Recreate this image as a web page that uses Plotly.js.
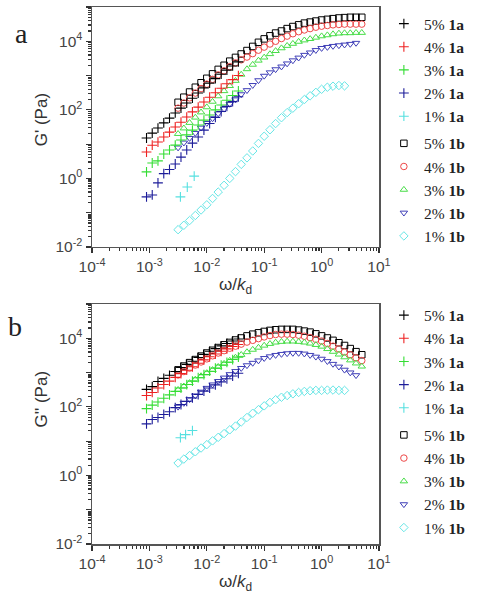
<!DOCTYPE html>
<html>
<head>
<meta charset="utf-8">
<script src="https://cdn.plot.ly/plotly-3.0.1.min.js"></script>
<style>html,body{margin:0;padding:0;background:#fff;}#chart{width:477px;height:600px;}</style>
</head>
<body>
<div id="chart"></div>
<script>
// ---- data ----
const seriesNames = ['5%', '4%', '3%', '2%', '1%'];
const xA = [0.000891, 0.00112, 0.00141, 0.00178, 0.00224, 0.00282, 0.00355, 0.00447, 0.00562, 0.00708, 0.00891, 0.0112, 0.0141, 0.0178, 0.0224, 0.0282, 0.0355];
const xB = [0.00316, 0.00398, 0.00501, 0.00631, 0.00794, 0.01, 0.0126, 0.0158, 0.02, 0.0251, 0.0316, 0.0398, 0.0501, 0.0631, 0.0794, 0.1, 0.126, 0.158, 0.2, 0.251, 0.316, 0.398, 0.501, 0.631, 0.794, 1, 1.26, 1.58, 2, 2.51, 3.16, 3.98, 5.01];
const xCyanA_top = [0.00347, 0.00457, 0.00603];
const xCyanA_bot = [0.00347, 0.00427, 0.00562];

// G' (top panel a)
const gp_1a_5 = [15.1, 20.9, 29.5, 41.7, 57.5, 81.3, 112, 158, 219, 309, 437, 603, 813, 1096, 1445, 1905, 2512];
const gp_1a_4 = [5.9, 9.3, 11.5, 16.2, 22.4, 31.6, 43.7, 61.7, 87.1, 120, 170, 234, 316, 427, 575, 759, 1000];
const gp_1a_3 = [1.55, 2.82, 3.24, 5.13, 6.76, 9.33, 13.2, 18.6, 25.7, 36.3, 50.1, 70.8, 100, 138, 191, 263, 355];
const gp_1a_2 = [0.29, 0.33, 0.74, 1.38, 1.82, 2.63, 4.17, 6.76, 10.7, 16.2, 25.7, 39.8, 60.3, 89.1, 126, 174, 240];
const gp_1a_1 = [0.29, 0.56, 1.17];
const gp_1b_5 = [166, 234, 331, 457, 617, 832, 1122, 1514, 1995, 2630, 3388, 4266, 5370, 7079, 9333, 11750, 14450, 17380, 19950, 23440, 26920, 30200, 33880, 36310, 38900, 41690, 43650, 45710, 47860, 49000, 50100, 50100, 50100];
const gp_1b_4 = [112, 158, 224, 309, 417, 562, 776, 1047, 1380, 1820, 2344, 2884, 3467, 4365, 5495, 6761, 8318, 10000, 12020, 14130, 16600, 19050, 21380, 23440, 25700, 27540, 28840, 30200, 30900, 31620, 31620, 31620, 31620];
const gp_1b_3 = [20, 29, 42, 60, 85, 120, 174, 251, 355, 501, 708, 1072, 1549, 2089, 2754, 3388, 4266, 5248, 6310, 7413, 8511, 9772, 10720, 11750, 12880, 14130, 15140, 16220, 16980, 17380, 17380, 17780, 17780];
const gp_1b_2 = [7.9, 11, 15, 21, 30, 41, 56, 78, 107, 148, 200, 282, 372, 525, 724, 977, 1230, 1514, 1820, 2239, 2754, 3311, 3981, 4677, 5495, 6310, 6761, 7244, 7586, 7943, 8318, 8913];
const gp_1b_1 = [0.032, 0.043, 0.059, 0.083, 0.12, 0.17, 0.26, 0.40, 0.63, 1.0, 1.58, 2.57, 3.98, 6.31, 10.5, 17.0, 26.3, 39.8, 58.9, 83.2, 112, 151, 200, 257, 324, 398, 457, 490, 513, 501];

// G'' (bottom panel b)
const gpp_1a_5 = [324, 389, 550, 676, 832, 1072, 1413, 1738, 2138, 2754, 3388, 4169, 5012, 6026, 7079, 8318, 9550];
const gpp_1a_4 = [214, 263, 355, 447, 562, 724, 933, 1175, 1479, 1862, 2344, 2884, 3467, 4169, 4898, 5754, 6607];
const gpp_1a_3 = [89, 112, 138, 178, 224, 282, 355, 447, 562, 708, 871, 1096, 1349, 1660, 1995, 2399, 2818];
const gpp_1a_2 = [32, 43, 49, 60, 72, 95, 117, 145, 182, 229, 288, 355, 437, 537, 661, 794, 955];
const gpp_1a_1 = [12.6, 15.5, 20.4];
const gpp_1b_5 = [1202, 1549, 1950, 2399, 3020, 3715, 4467, 5370, 6457, 7586, 8913, 10230, 11750, 13180, 14450, 15850, 16980, 17780, 18200, 18200, 18200, 17380, 16220, 15140, 13490, 11750, 10230, 8710, 7413, 6166, 5012, 4074, 3311];
const gpp_1b_4 = [851, 1072, 1349, 1660, 2042, 2512, 3090, 3715, 4365, 5129, 5888, 6761, 7762, 8710, 9772, 10960, 12020, 12880, 13180, 13180, 12880, 12300, 11480, 10470, 9333, 8318, 7079, 5888, 4898, 3981, 3311, 2692, 2239];
const gpp_1b_3 = [316, 398, 501, 631, 794, 977, 1202, 1479, 1820, 2239, 2754, 3311, 3981, 4677, 5370, 6166, 6918, 7586, 7943, 8128, 8128, 7943, 7586, 7079, 6457, 5754, 4898, 4074, 3388, 2818, 2291, 1862, 1514];
const gpp_1b_2 = [100, 129, 166, 214, 275, 355, 447, 562, 708, 891, 1096, 1349, 1622, 1905, 2239, 2630, 2951, 3236, 3467, 3631, 3715, 3715, 3548, 3236, 2884, 2512, 2138, 1778, 1479, 1202, 1000, 832];
const gpp_1b_1 = [2.3, 3.0, 3.8, 4.9, 6.3, 7.9, 10.2, 12.9, 16.6, 21.4, 27.5, 36.3, 49, 65, 83, 107, 135, 162, 191, 214, 240, 263, 282, 295, 302, 302, 309, 309, 302, 302];

const yTickVals = [0.01, 0.1, 1, 10, 100, 1000, 10000, 100000];
const yTickText = ['10<sup>-2</sup>', '', '10<sup>0</sup>', '', '10<sup>2</sup>', '', '10<sup>4</sup>', ''];
const xTickVals = [0.0001, 0.001, 0.01, 0.1, 1, 10];
const xTickText = ['10<sup>-4</sup>', '10<sup>-3</sup>', '10<sup>-2</sup>', '10<sup>-1</sup>', '10<sup>0</sup>', '10<sup>1</sup>'];

// ---- styles ----
const colA = ['#000000', '#ee2222', '#33dd33', '#1c1c99', '#55e0e0'];
const colB = ['#000000', '#ee4848', '#48dd48', '#4040b8', '#66e6e6'];
const symB = ['square-open', 'circle-open', 'triangle-up-open', 'triangle-down-open', 'diamond-open'];

const topA = [gp_1a_5, gp_1a_4, gp_1a_3, gp_1a_2, gp_1a_1];
const topB = [gp_1b_5, gp_1b_4, gp_1b_3, gp_1b_2, gp_1b_1];
const botA = [gpp_1a_5, gpp_1a_4, gpp_1a_3, gpp_1a_2, gpp_1a_1];
const botB = [gpp_1b_5, gpp_1b_4, gpp_1b_3, gpp_1b_2, gpp_1b_1];

const traces = [];
function addPanel(aArr, bArr, cyanX, xa, ya, legendId) {
  bArr.forEach((ys, i) => {
    traces.push({
      type: 'scatter', mode: 'markers', x: xB.slice(0, ys.length), y: ys,
      xaxis: xa, yaxis: ya, legend: legendId,
      name: seriesNames[i] + ' <b>1b</b>', legendgroup: 'b' + legendId, legendrank: 10 + i,
      marker: {symbol: symB[i], size: 6.5, color: colB[i], line: {width: 1, color: colB[i]}},
      hoverinfo: 'skip'
    });
  });
  aArr.forEach((ys, i) => {
    traces.push({
      type: 'scatter', mode: 'markers', x: i === 4 ? cyanX : xA.slice(0, ys.length), y: ys,
      xaxis: xa, yaxis: ya, legend: legendId,
      name: seriesNames[i] + ' <b>1a</b>', legendgroup: 'a' + legendId, legendrank: i,
      marker: {symbol: 'cross-thin-open', size: 7, color: colA[i], line: {width: 1.1, color: colA[i]}},
      hoverinfo: 'skip'
    });
  });
}
addPanel(topA, topB, xCyanA_top, 'x', 'y', 'legend');
addPanel(botA, botB, xCyanA_bot, 'x2', 'y2', 'legend2');

const tickFont = {family: 'Liberation Sans, Arial, sans-serif', size: 15.5, color: '#444'};
const titleFont = {family: 'Liberation Sans, Arial, sans-serif', size: 17, color: '#333'};
function xAxis(anchor) {
  return {
    type: 'log', range: [-4, 1], anchor: anchor, domain: [0, 1],
    tickvals: xTickVals, ticktext: xTickText, ticks: 'outside', ticklen: 5, tickwidth: 1.2, tickcolor: '#333',
    minor: {ticks: 'outside', ticklen: 3, tickcolor: '#333', dtick: 'D1', showgrid: false},
    showline: true, mirror: true, linecolor: '#555', linewidth: 1.5, showgrid: false, zeroline: false,
    tickfont: tickFont,
    title: {text: 'ω/<i>k</i><sub>d</sub>', font: titleFont, standoff: 2}
  };
}
function yAxis(anchor, domain) {
  return {
    type: 'log', range: [-2, 5], anchor: anchor, domain: domain,
    tickvals: yTickVals, ticktext: yTickText, ticks: 'outside', ticklen: 5, tickwidth: 1.2, tickcolor: '#333',
    minor: {ticks: 'outside', ticklen: 3, tickcolor: '#333', dtick: 'D1', showgrid: false},
    showline: true, mirror: true, linecolor: '#555', linewidth: 1.5, showgrid: false, zeroline: false,
    tickfont: tickFont
  };
}
const legendBase = {
  xanchor: 'left', x: 1.017, yanchor: 'top', traceorder: 'grouped', tracegroupgap: 4,
  font: {family: 'Liberation Serif, Times New Roman, serif', size: 15.5, color: '#222'},
  bgcolor: 'rgba(0,0,0,0)', borderwidth: 0, itemwidth: 30
};
const serifBig = {family: 'Liberation Serif, Times New Roman, serif', size: 28, color: '#222'};

const layout = {
  width: 477, height: 600,
  margin: {l: 92, r: 90, t: 7, b: 56},
  paper_bgcolor: '#fff', plot_bgcolor: '#fff',
  showlegend: true,
  xaxis: xAxis('y'),
  yaxis: yAxis('x', [0.5531, 1]),
  xaxis2: xAxis('y2'),
  yaxis2: yAxis('x2', [0, 0.4469]),
  legend: Object.assign({}, legendBase, {y: 1.0}),
  legend2: Object.assign({}, legendBase, {y: 0.457}),
  annotations: [
    {text: 'a', xref: 'paper', yref: 'paper', x: -0.247, y: 0.95, xanchor: 'center', yanchor: 'middle', showarrow: false, font: serifBig},
    {text: 'b', xref: 'paper', yref: 'paper', x: -0.267, y: 0.405, xanchor: 'center', yanchor: 'middle', showarrow: false, font: serifBig},
    {text: "G' (Pa)", xref: 'paper', yref: 'paper', x: -0.176, y: 0.79, xanchor: 'center', yanchor: 'middle',
     textangle: -90, showarrow: false, font: titleFont},
    {text: "G'' (Pa)", xref: 'paper', yref: 'paper', x: -0.176, y: 0.27, xanchor: 'center', yanchor: 'middle',
     textangle: -90, showarrow: false, font: titleFont}
  ]
};

Plotly.newPlot('chart', traces, layout, {displayModeBar: false, staticPlot: true});
</script>
</body>
</html>
